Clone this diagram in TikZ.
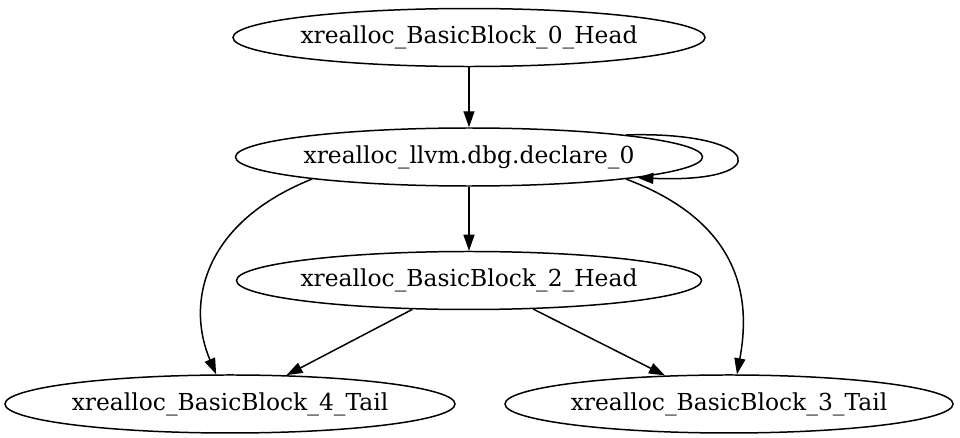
\documentclass[tikz,border=0pt]{standalone}
\usepackage{fontspec}
\setmainfont{DejaVu Serif}
\usepackage{tikz}
\usetikzlibrary{arrows.meta, positioning, shapes.geometric}
\newcommand{\blk}[1]{\makebox[0pt]{#1}}
\tikzset{
  block/.style={ellipse, draw, line width=0.85pt, minimum width=#1,
                minimum height=1.16cm, inner sep=0pt,
                font=\fontsize{13.3}{15}\selectfont},
  block/.default=9.3cm,
  edge/.style={-{Triangle[length=0.32cm, width=0.22cm]}, line width=0.85pt},
}

\begin{document}
\begin{tikzpicture}
  \useasboundingbox (0,0) rectangle (19.2,-8.74);

  \node[block=9.44cm] at (9.38,-0.75)
    (head0) {\blk{xrealloc\_BasicBlock\_0\_Head}};
  \node[block=9.34cm, below=1.2cm of head0]
    (decl) {\blk{xrealloc\_llvm.dbg.declare\_0}};
  \node[block=9.3cm, below=1.28cm of decl]
    (head2) {\blk{xrealloc\_BasicBlock\_2\_Head}};

  \node[block=9.0cm, below=1.28cm of head2, xshift=-4.78cm]
    (tail4) {\blk{xrealloc\_BasicBlock\_4\_Tail}};
  \node[block=8.96cm, below=1.28cm of head2, xshift=5.2cm]
    (tail3) {\blk{xrealloc\_BasicBlock\_3\_Tail}};

  % --- Edges ---
  \draw[edge] (head0) -- (decl);
  \draw[edge] (decl.8) .. controls +(2.75,0.08) and +(2.8,-0.12) .. (decl.353);
  \draw[edge] (decl) -- (head2);
  \draw[edge] (decl.188) .. controls +(-2.2,-0.88) and +(-0.6,1.40) .. (tail4.115);
  \draw[edge] (decl.352) .. controls +(2.4,-0.9) and +(0.26,1.40) .. (tail3.75);
  \draw[edge] (head2.207) -- (tail4.27);
  \draw[edge] (head2.336) -- (tail3.156);

\end{tikzpicture}
\end{document}
